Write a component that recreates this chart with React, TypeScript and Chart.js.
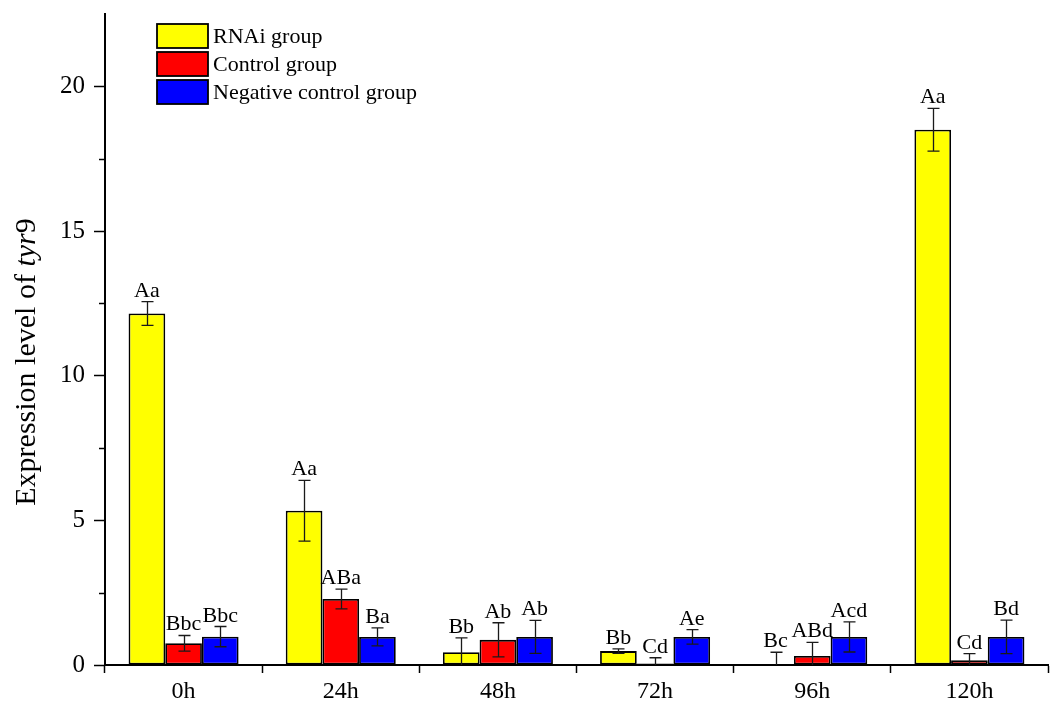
import React, { useEffect, useRef } from 'react';
import { Chart, registerables } from 'chart.js';

Chart.register(...registerables);

const categories = ['0h', '24h', '48h', '72h', '96h', '120h'];
const seriesNames = ['RNAi group', 'Control group', 'Negative control group'];
const seriesColors = ['#ffff00', '#ff0000', '#0000ff'];

const rnaiValues = [12.15, 5.33, 0.44, 0.48, 0, 18.5];
const rnaiErrors = [0.41, 1.05, 0.5, 0.08, 0.44, 0.74];
const rnaiLetters = ['Aa', 'Aa', 'Bb', 'Bb', 'Bc', 'Aa'];

const controlValues = [0.75, 2.28, 0.87, 0.05, 0.31, 0.16];
const controlErrors = [0.27, 0.34, 0.59, 0.2, 0.47, 0.23];
const controlLetters = ['Bbc', 'ABa', 'Ab', 'Cd', 'ABd', 'Cd'];

const negativeValues = [0.98, 0.97, 0.97, 0.97, 0.97, 0.97];
const negativeErrors = [0.35, 0.31, 0.57, 0.25, 0.52, 0.58];
const negativeLetters = ['Bbc', 'Ba', 'Ab', 'Ae', 'Acd', 'Bd'];

const yMin = 0;
const yMax = 22.5;
const yMajorStep = 5;
const yMinorTicks = [2.5, 7.5, 12.5, 17.5];

const FONT = '"Liberation Serif", "Times New Roman", serif';

const allErrors = [rnaiErrors, controlErrors, negativeErrors];
const allLetters = [rnaiLetters, controlLetters, negativeLetters];

const errorPlugin = {
  id: 'errorBars',
  afterDatasetsDraw(chart: any) {
    const ctx = chart.ctx;
    const y = chart.scales.y;
    const area = chart.chartArea;
    ctx.save();
    ctx.beginPath();
    ctx.rect(area.left, area.top - 20, area.right - area.left, area.bottom - area.top + 20);
    ctx.clip();
    ctx.strokeStyle = '#1a1a1a';
    ctx.lineWidth = 1.3;
    chart.data.datasets.forEach((ds: any, i: number) => {
      const meta = chart.getDatasetMeta(i);
      meta.data.forEach((bar: any, j: number) => {
        const v = ds.data[j];
        const e = allErrors[i][j];
        const x = Math.round(bar.x) + 0.5;
        const yt = y.getPixelForValue(v + e);
        const yb = y.getPixelForValue(v - e);
        ctx.beginPath();
        ctx.moveTo(x, yt);
        ctx.lineTo(x, yb);
        ctx.moveTo(x - 6, yt);
        ctx.lineTo(x + 6, yt);
        ctx.moveTo(x - 6, yb);
        ctx.lineTo(x + 6, yb);
        ctx.stroke();
      });
    });
    ctx.restore();

    ctx.save();
    ctx.fillStyle = '#000';
    ctx.font = `22px ${FONT}`;
    ctx.textAlign = 'center';
    ctx.textBaseline = 'alphabetic';
    chart.data.datasets.forEach((ds: any, i: number) => {
      const meta = chart.getDatasetMeta(i);
      meta.data.forEach((bar: any, j: number) => {
        const v = ds.data[j];
        const e = allErrors[i][j];
        const yt = y.getPixelForValue(v + e);
        ctx.fillText(allLetters[i][j], bar.x, yt - 5);
      });
    });
    ctx.restore();
  },
};

const decorPlugin = {
  id: 'decor',
  afterDraw(chart: any) {
    const ctx = chart.ctx;
    const y = chart.scales.y;
    const area = chart.chartArea;
    ctx.save();
    ctx.strokeStyle = '#000';
    ctx.lineWidth = 1.5;
    yMinorTicks.forEach((t) => {
      const py = Math.round(y.getPixelForValue(t)) + 0.5;
      ctx.beginPath();
      ctx.moveTo(area.left - 6, py);
      ctx.lineTo(area.left, py);
      ctx.stroke();
    });

    const boxX = 157;
    const boxW = 51;
    const boxH = 24;
    const rowTop = [24, 52, 80];
    ctx.font = `22px ${FONT}`;
    ctx.textBaseline = 'middle';
    ctx.textAlign = 'left';
    seriesNames.forEach((name, i) => {
      ctx.fillStyle = seriesColors[i];
      ctx.fillRect(boxX, rowTop[i], boxW, boxH);
      ctx.strokeStyle = '#000';
      ctx.lineWidth = 1.8;
      ctx.strokeRect(boxX, rowTop[i], boxW, boxH);
      ctx.fillStyle = '#000';
      ctx.fillText(name, boxX + boxW + 5, rowTop[i] + boxH / 2 + 1);
    });

    const parts = [
      { t: 'Expression level of ', f: `30px ${FONT}` },
      { t: 'tyr', f: `italic 30px ${FONT}` },
      { t: '9', f: `30px ${FONT}` },
    ];
    let total = 0;
    parts.forEach((p) => {
      ctx.font = p.f;
      total += ctx.measureText(p.t).width;
    });
    ctx.translate(35, 362);
    ctx.rotate(-Math.PI / 2);
    ctx.textBaseline = 'alphabetic';
    let cx = -total / 2;
    parts.forEach((p) => {
      ctx.font = p.f;
      ctx.fillText(p.t, cx, 0);
      cx += ctx.measureText(p.t).width;
    });
    ctx.restore();
  },
};

export default function App() {
  const ref = useRef<HTMLCanvasElement | null>(null);
  useEffect(() => {
    if (!ref.current) return;
    const chart = new Chart(ref.current, {
      type: 'bar',
      data: {
        labels: categories,
        datasets: [
          { label: seriesNames[0], data: rnaiValues, backgroundColor: seriesColors[0] },
          { label: seriesNames[1], data: controlValues, backgroundColor: seriesColors[1] },
          { label: seriesNames[2], data: negativeValues, backgroundColor: seriesColors[2] },
        ].map((d) => ({
          ...d,
          borderColor: '#000',
          borderWidth: 1.8,
          borderSkipped: false,
          categoryPercentage: 0.7,
          barPercentage: 1.0,
        })),
      },
      options: {
        animation: false,
        responsive: false,
        maintainAspectRatio: false,
        layout: { padding: { top: 14, right: 8, left: 0, bottom: 0 } },
        plugins: { legend: { display: false }, tooltip: { enabled: false } },
        scales: {
          x: {
            type: 'category',
            offset: true,
            grid: { offset: true, drawOnChartArea: false, drawTicks: true, tickLength: 8, color: '#000', tickWidth: 1.5 },
            border: { display: true, color: '#000', width: 2 },
            ticks: { color: '#000', font: { family: FONT, size: 24 }, padding: 4 },
            afterFit(scale: any) {
              scale.height = 37;
              scale.paddingLeft = 0;
              scale.paddingRight = 0;
            },
          },
          y: {
            min: yMin,
            max: yMax,
            grid: { drawOnChartArea: false, drawTicks: true, tickLength: 11, color: '#000', tickWidth: 1.5 },
            border: { display: true, color: '#000', width: 2 },
            ticks: {
              stepSize: yMajorStep,
              includeBounds: false,
              color: '#000',
              font: { family: FONT, size: 25 },
              padding: 9,
            },
            afterFit(scale: any) {
              scale.width = 105;
              scale.paddingTop = 0;
              scale.paddingBottom = 0;
            },
          },
        },
      },
      plugins: [errorPlugin, decorPlugin],
    } as any);
    return () => chart.destroy();
  }, []);
  return (
    <div style={{ position: 'absolute', left: 0, top: 0, width: 1056, height: 702, background: '#fff' }}>
      <canvas ref={ref} width={1056} height={702} style={{ display: 'block', width: 1056, height: 702 }} />
    </div>
  );
}
